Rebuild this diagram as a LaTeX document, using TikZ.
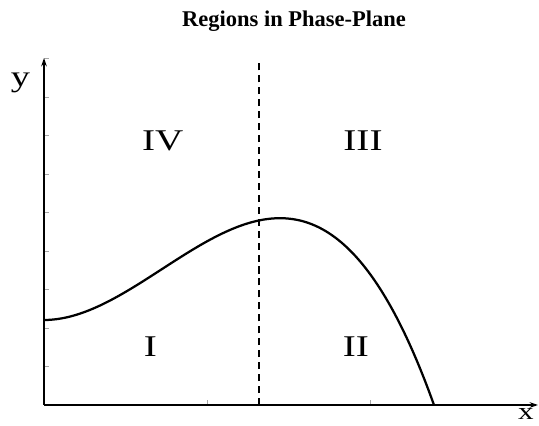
\documentclass[tikz,border=0pt]{standalone}
\usepackage{fontspec}
\setmainfont{Liberation Serif}
\usetikzlibrary{arrows.meta}

\begin{document}
\begin{tikzpicture}[
  x=0.025cm, y=0.025cm,
  axis/.style={line width=1.6pt,-{Stealth[length=6pt,width=4pt]}},
  tick/.style={gray!70,line width=0.5pt},
  curve/.style={line width=1.6pt},
  divider/.style={line width=1.6pt,dash pattern=on 5pt off 3.5pt},
  region/.style={font=\fontsize{21.4}{24}\selectfont,xscale=1.3,anchor=base,inner sep=0pt},
  axlabel/.style={font=\fontsize{21}{24}\selectfont,xscale=1.3,anchor=base,inner sep=0pt},
]
  \useasboundingbox (0,0) rectangle (539,426);

  % Title
  \node[font=\fontsize{16}{19}\selectfont\bfseries,anchor=base] (title) at (294,399.3)
    {Regions in Phase-Plane};

  % Axes
  \coordinate (O) at (44,21);
  \coordinate (xend) at (538,21);
  \coordinate (yend) at (44,368);
  \foreach \k in {1,...,9}
    \draw[tick] (44,21+38.5*\k) -- ++(5,0);
  \foreach \k in {1,2}
    \draw[tick] (44+163*\k,21) -- ++(0,5);
  \draw[axis] (O) -- (xend);
  \draw[axis] (O) -- (yend);
  \node[axlabel] (ylab) at (20.5,339) {y};
  \node[axlabel,font=\fontsize{17}{20}\selectfont] (xlab) at (526,6) {x};

  % Dividing line
  \coordinate (dtop) at (259,366);
  \coordinate (dbot) at (259,21);
  \draw[divider] (dbot) -- (dtop);

  % Curve
  \draw[curve] plot[domain=0:3.9,samples=90,smooth]
    ({44+100*\x},{106+54.86*\x*\x-15.5*\x*\x*\x});

  % Regions
  \node[region] (r4) at (162.7,275) {IV};
  \node[region] (r3) at (363,275) {III};
  \node[region] (r1) at (150.5,69.5) {I};
  \node[region] (r2) at (355.8,69.5) {II};
\end{tikzpicture}
\end{document}
